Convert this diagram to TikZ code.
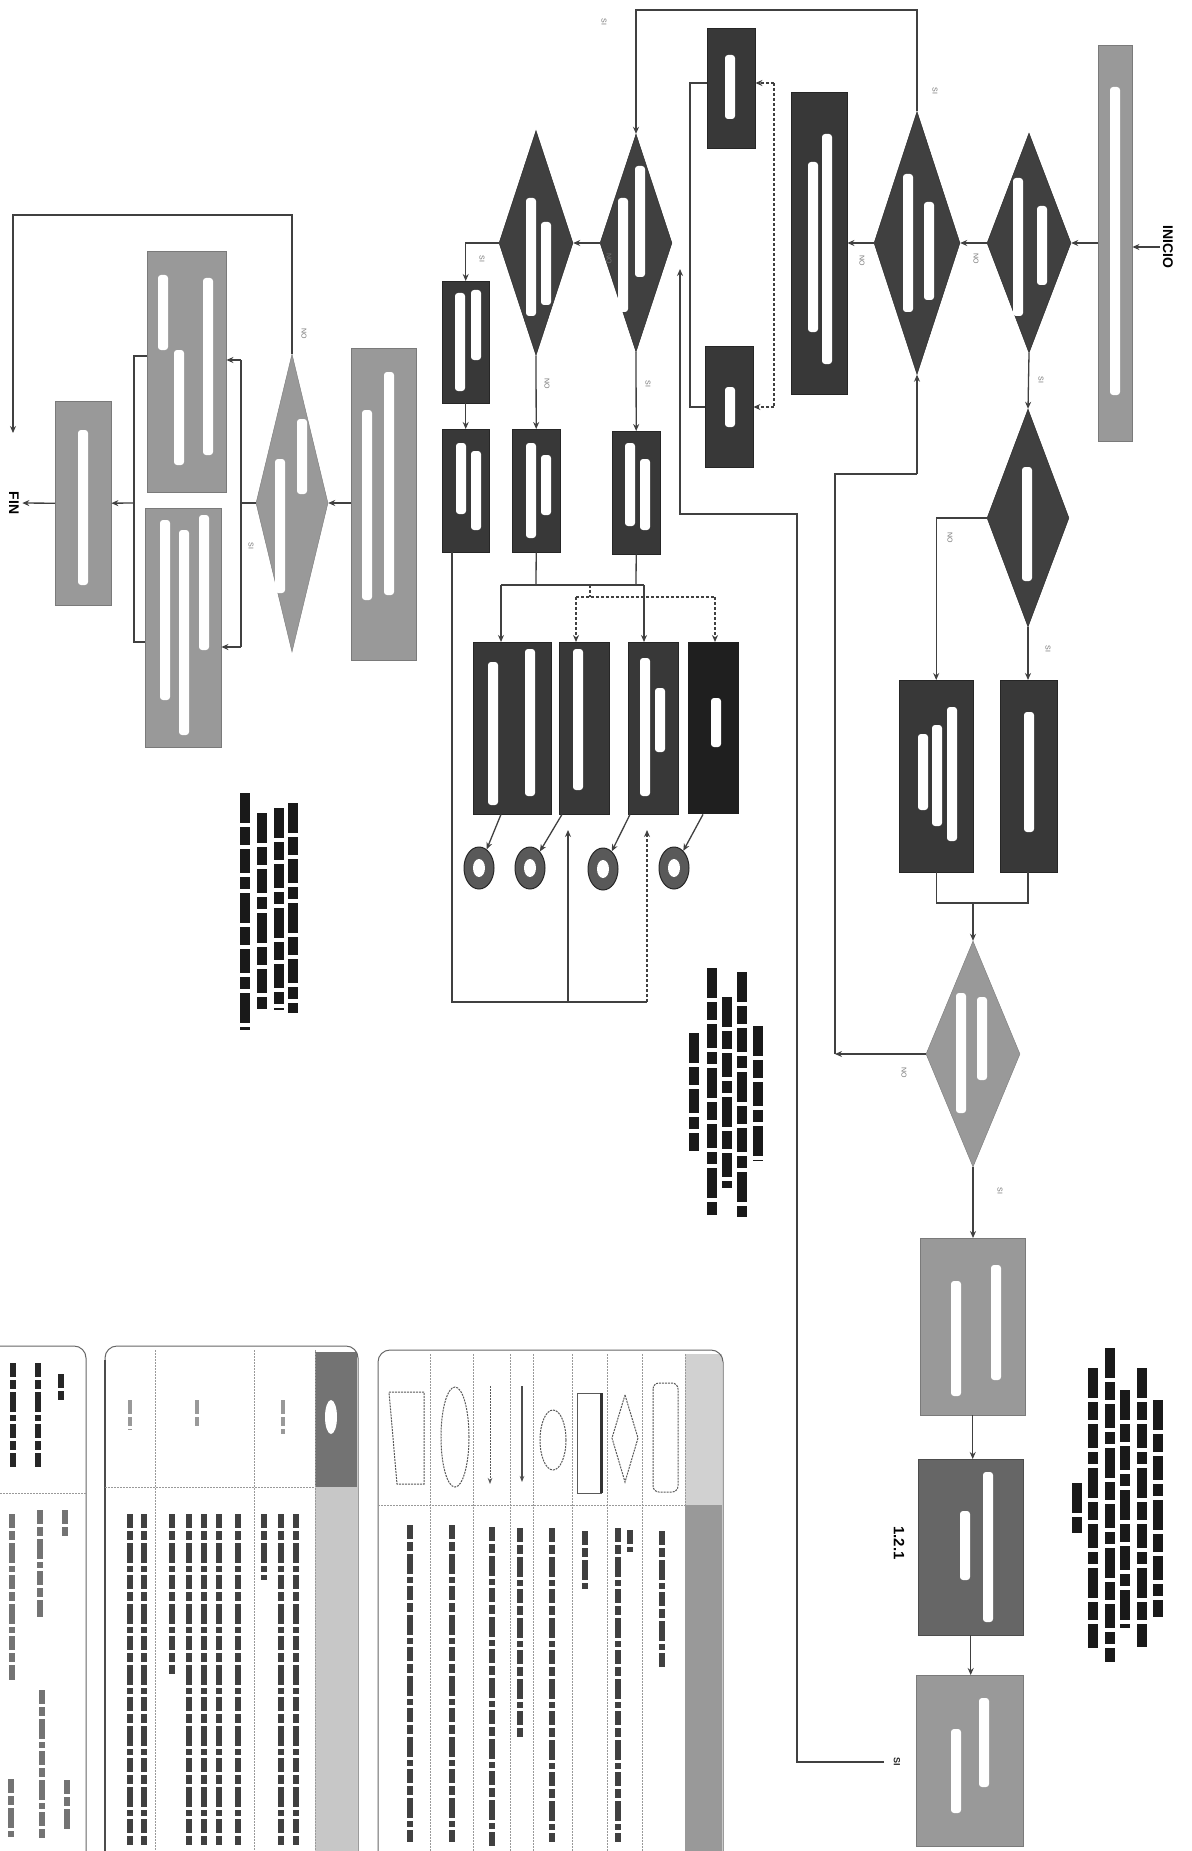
\documentclass[tikz,border=0pt]{standalone}
\usepackage{fontspec}
\setmainfont{Liberation Sans}
\usetikzlibrary{shapes.geometric,arrows.meta}
\newcommand\wbar[3]{\fill[white,rounded corners=3pt] ({#1-5},#2) rectangle ({#1+5},#3);}
\begin{document}
\begin{tikzpicture}[x=1pt,y=-1pt,
  ln/.style={draw=black!75,line width=1.3pt},
  ar/.style={ln,-{Stealth[length=7pt,width=6pt]}},
  dl/.style={ln,dash pattern=on 3pt off 2pt},
  dar/.style={dl,-{Stealth[length=7pt,width=6pt]}},
  bx/.style={rectangle,inner sep=0pt,anchor=north west},
  lbox/.style={bx,fill=black!40,draw=black!52},
  dbox/.style={bx,fill=black!78,draw=black!85},
  mbox/.style={bx,fill=black!60,draw=black!70},
  dia/.style={diamond,inner sep=0pt},
  ldia/.style={dia,fill=black!40,draw=black!52},
  ddia/.style={dia,fill=black!75,draw=black!85},
  circ/.style={ellipse,inner sep=0pt,minimum width=30pt,minimum height=42pt,fill=black!65,draw=black!85,line width=1pt},
  lbl/.style={font=\fontsize{7}{7}\selectfont,rotate=-90,text=black!55},
  blbl/.style={font=\bfseries\fontsize{9}{9}\selectfont,rotate=-90,text=black!85},
  term/.style={font=\bfseries\fontsize{14}{14}\selectfont,rotate=-90},
  note/.style={line width=10pt,black!90,dash pattern=on 30pt off 4pt on 18pt off 4pt on 24pt off 4pt on 12pt off 4pt},
  txt/.style={line width=6pt,dash pattern=on 14pt off 3pt on 9pt off 3pt on 20pt off 3pt on 6pt off 3pt},
  leg/.style={draw=black!60,line width=1pt,rounded corners=12pt},
  div/.style={draw=black!40,line width=0.8pt,dash pattern=on 1.5pt off 1.5pt},
  sym/.style={draw=black!65,line width=1pt,dash pattern=on 2pt off 1pt},
]
\fill[white] (0,0) rectangle (1191,1851);
\useasboundingbox (0,0) rectangle (1191,1851);

% ---------- terminals ----------
\node[term] (FIN) at (14,503) {FIN};
\node[term] (INICIO) at (1168,247) {INICIO};

% ---------- boxes ----------
\node[lbox,minimum width=56pt,minimum height=204pt] (F) at (55,401) {};
\node[lbox,minimum width=79pt,minimum height=241pt] (U) at (147,251) {};
\node[lbox,minimum width=76pt,minimum height=239pt] (L) at (145,508) {};
\node[lbox,minimum width=65pt,minimum height=312pt] (P) at (351,348) {};
\node[dbox,minimum width=47pt,minimum height=122pt] (A) at (442,281) {};
\node[dbox,minimum width=47pt,minimum height=123pt] (B) at (442,429) {};
\node[dbox,minimum width=48pt,minimum height=123pt] (C) at (512,429) {};
\node[dbox,minimum width=48pt,minimum height=123pt] (E) at (612,431) {};
\node[dbox,minimum width=48pt,minimum height=120pt] (G1) at (707,28) {};
\node[dbox,minimum width=48pt,minimum height=121pt] (G2) at (705,346) {};
\node[dbox,minimum width=56pt,minimum height=302pt] (H) at (791,92) {};
\node[lbox,minimum width=34pt,minimum height=396pt] (I1) at (1098,45) {};
\node[dbox,minimum width=78pt,minimum height=172pt] (D1) at (473,642) {};
\node[dbox,minimum width=50pt,minimum height=172pt] (D2) at (559,642) {};
\node[dbox,minimum width=50pt,minimum height=172pt] (D3) at (628,642) {};
\node[bx,fill=black!88,minimum width=51pt,minimum height=172pt] (D4) at (688,642) {};
\node[dbox,minimum width=74pt,minimum height=192pt] (J1) at (899,680) {};
\node[dbox,minimum width=57pt,minimum height=192pt] (J2) at (1000,680) {};
\node[lbox,minimum width=105pt,minimum height=177pt] (K1) at (920,1238) {};
\node[mbox,minimum width=105pt,minimum height=176pt] (K2) at (918,1459) {};
\node[lbox,minimum width=107pt,minimum height=171pt] (K3) at (916,1675) {};

% ---------- diamonds ----------
\node[ldia,minimum width=72pt,minimum height=298pt] (d1) at (292,503) {};
\node[ddia,minimum width=74pt,minimum height=225pt] (d2) at (536,243) {};
\node[ddia,minimum width=72pt,minimum height=218pt] (d3) at (636,243) {};
\node[ddia,minimum width=86pt,minimum height=263pt] (d4) at (917,243) {};
\node[ddia,minimum width=84pt,minimum height=220pt] (d6) at (1029,243) {};
\node[ddia,minimum width=82pt,minimum height=218pt] (d7) at (1028,518) {};
\node[ldia,minimum width=94pt,minimum height=226pt] (d5) at (973,1054) {};

% ---------- connector circles ----------
\node[circ] (c1) at (479,868) {};
\node[circ] (c2) at (530,868) {};
\node[circ] (c3) at (603,869) {};
\node[circ] (c4) at (674,868) {};
\foreach \c in {c1,c2,c3,c4}{\fill[white] (\c) ellipse (6pt and 9pt);}

% ---------- white text inside shapes ----------
\wbar{83}{430}{585}
\wbar{163}{275}{350}\wbar{179}{350}{465}\wbar{208}{278}{455}
\wbar{165}{520}{700}\wbar{184}{530}{735}\wbar{204}{515}{650}
\wbar{367}{410}{600}\wbar{389}{372}{595}
\wbar{460}{293}{391}\wbar{476}{290}{360}
\wbar{461}{443}{514}\wbar{476}{451}{530}
\wbar{531}{443}{538}\wbar{546}{455}{515}
\wbar{630}{443}{526}\wbar{645}{459}{530}
\wbar{730}{55}{119}\wbar{730}{387}{427}
\wbar{813}{162}{332}\wbar{827}{134}{364}
\wbar{1115}{87}{395}
\wbar{280}{459}{593}\wbar{302}{419}{494}
\wbar{531}{198}{316}\wbar{546}{222}{305}
\wbar{623}{198}{312}\wbar{640}{166}{277}
\wbar{908}{174}{312}\wbar{929}{202}{300}
\wbar{1018}{178}{316}\wbar{1042}{206}{285}
\wbar{1027}{467}{581}
\wbar{961}{993}{1113}\wbar{982}{997}{1080}
\wbar{493}{662}{805}\wbar{530}{649}{796}
\wbar{578}{649}{790}
\wbar{645}{658}{796}\wbar{660}{688}{752}
\wbar{716}{698}{747}
\wbar{923}{734}{810}\wbar{937}{725}{826}\wbar{952}{707}{841}
\wbar{1029}{712}{832}
\wbar{956}{1281}{1396}\wbar{996}{1265}{1380}
\wbar{965}{1511}{1580}\wbar{988}{1472}{1622}
\wbar{956}{1729}{1813}\wbar{984}{1698}{1787}

% ---------- connectors: right part ----------
\draw[ar] (INICIO) -- (INICIO -| I1.east);
\draw[ar] (d6 -| I1.west) -- (d6.east);
\draw[ar] (d6.west) -- (d4.east);
\draw[ar] (d4.west) -- (d4 -| H.east);
\draw[ar] (d4.north) -- (917,10) -- (636,10) -- (d3.north);
\draw[ar] (d3.west) -- (d2.east);
\draw[ar] (d2.west) -| (A.north);
\draw[ar] (A.south) -- (B.north);
\draw[ar] (d2.south) -- (C.north);
\draw[ar] (d3.south) -- (E.north);
\draw[ar] (d6.south) -- (d7.north);
\draw[ar] (d7.west) -| (J1.north);
\draw[ar] (d7.south) -- (d7.south |- J2.north);
\draw[ln] (J1.south) -- (J1.south |- 0,903) -- (1028,903) -- (J2.south -| 1028,0);
\draw[ar] (973,903) -- (d5.north);
\draw[ar] (d5.south) -- (d5.south |- K1.north);
\draw[ar] (K1.south) -- (K1.south |- K2.north);
\draw[ar] (K2.south) -- (K2.south |- K3.north);
\draw[ar] (d5.west) -- (835,1054);
\draw[ln] (835,1054) -- (835,474) -- (917,474);
\draw[ar] (917,474) -- (d4.south);

% G boxes
\draw[dl] (774,83) -- (774,407);
\draw[dar] (774,83) -- (G1.east |- 0,83);
\draw[dar] (774,407) -- (G2.east |- 0,407);
\draw[ln] (G1.west |- 0,83) -- (690,83) -- (690,407) -- (G2.west |- 0,407);
\draw[ar] (884,1762) -- (797,1762) -- (797,514) -- (680,514) -- (680,269);
\node[blbl] (siK) at (897,1762) {SI};

% bus to D boxes
\draw[ln] (C.south) -- (536,585);
\draw[ln] (E.south) -- (636,585);
\draw[ln] (501,585) -- (644,585);
\draw[ar] (501,585) -- (501,585 |- D1.north);
\draw[ar] (644,585) -- (644,585 |- D3.north);
\draw[dl] (590,585) -- (590,597);
\draw[dl] (576,597) -- (715,597);
\draw[dar] (576,597) -- (576,597 |- D2.north);
\draw[dar] (715,597) -- (715,597 |- D4.north);
\draw[ar] ([xshift=28pt]D1.south west) -- (c1);
\draw[ar] ([xshift=3pt]D2.south west) -- (c2);
\draw[ar] ([xshift=2pt]D3.south west) -- (c3);
\draw[ar] ([xshift=15pt]D4.south west) -- (c4);
\draw[ln] ([xshift=10pt]B.south west) -- ([xshift=10pt]B.south west |- 0,1002) -- (647,1002);
\draw[ar] (568,1002) -- (568,830);
\draw[dar] (647,1002) -- (647,830);

% ---------- connectors: left part ----------
\draw[ar] (d1 -| P.west) -- (d1.east);
\draw[ln] (d1.west) -- (241,503);
\draw[ln] (241,360) -- (241,647);
\draw[ar] (241,360) -- (241,360 -| U.east);
\draw[ar] (241,647) -- (241,647 -| L.east);
\draw[ln] (U.west |- 0,356) -- (134,356) -- (134,642) -- (L.west |- 0,642);
\draw[ar] (134,503) -- (F.east);
\draw[ar] (F.west) -- (FIN);
\draw[ar] (d1.north) -- (292,215) -- (13,215) -- (13,433);

% ---------- small labels ----------
\node[lbl] at (304,334) {NO};
\node[lbl] at (251,546) {SI};
\node[lbl] at (482,259) {SI};
\node[lbl] at (547,384) {NO};
\node[lbl] at (609,259) {NO};
\node[lbl] at (648,384) {SI};
\node[lbl] at (604,22) {SI};
\node[lbl] at (935,91) {SI};
\node[lbl] at (862,261) {NO};
\node[lbl] at (976,259) {NO};
\node[lbl] at (1041,380) {SI};
\node[lbl] at (950,538) {NO};
\node[lbl] at (1048,649) {SI};
\node[lbl] at (904,1073) {NO};
\node[lbl] at (1000,1191) {SI};
\node[term,font=\bfseries\fontsize{15}{15}\selectfont] at (899,1543) {1.2.1};

% ---------- notes (illegible bold text) ----------
\foreach \x/\a/\b in {293/803/1013,279/808/1010,262/813/1010,245/793/1030}{\draw[note] (\x,\a) -- (\x,\b);}
\foreach \x/\a/\b in {758/1026/1161,742/972/1217,727/997/1188,712/968/1215,694/1033/1151}{\draw[note] (\x,\a) -- (\x,\b);}
\foreach \x/\a/\b in {1158/1400/1617,1142/1368/1647,1125/1390/1628,1110/1348/1662,1093/1368/1650,1077/1483/1533}{\draw[note] (\x,\a) -- (\x,\b);}

% ---------- legend panel A ----------
\draw[leg] (0,1346) -- (86,1346) -- (86,1851);
\draw[div] (0,1493) -- (86,1493);
\foreach \x/\a/\b in {13/1363/1467,38/1363/1467,61/1374/1402}{\draw[txt,black!85] (\x,\a) -- (\x,\b);}
\foreach \x/\a/\b in {12/1514/1680,40/1510/1617,65/1510/1537,11/1779/1840,42/1690/1840,67/1780/1830}{\draw[txt,black!55] (\x,\a) -- (\x,\b);}

% ---------- legend panel B ----------
\fill[black!22] (315,1352) rectangle (357,1851);
\fill[black!55] (315,1352) rectangle (357,1487);
\fill[white] (331,1417) ellipse (6pt and 17pt);
\draw[leg] (105,1851) -- (105,1346) -- (358,1346) -- (358,1851);
\draw[black!70,line width=2.5pt] (105,1360) -- (105,1851);
\draw[div] (105,1487) -- (315,1487);
\foreach \x in {155,254,315}{\draw[div] (\x,1350) -- (\x,1851);}
\foreach \x/\a/\b in {130/1400/1430,197/1400/1427,283/1400/1434}{\draw[txt,black!40,line width=4pt] (\x,\a) -- (\x,\b);}
\foreach \x/\a/\b in {130/1514/1848,144/1514/1848,172/1514/1674,189/1514/1848,204/1514/1848,219/1514/1848,238/1514/1848,264/1514/1580,281/1514/1848,296/1514/1848}{\draw[txt,black!75] (\x,\a) -- (\x,\b);}

% ---------- legend panel C ----------
\fill[black!18] (685,1354) rectangle (722,1505);
\fill[black!40] (685,1505) rectangle (722,1851);
\draw[leg] (378,1851) -- (378,1350) -- (723,1350) -- (723,1851);
\draw[div] (378,1505) -- (685,1505);
\foreach \x in {430,473,510,533,572,607,642,685}{\draw[div] (\x,1354) -- (\x,1851);}
\draw[sym] (389,1392) -- (424,1392) -- (424,1484) -- (397,1484) -- cycle;
\draw[sym] (455,1437) ellipse (14pt and 50pt);
\draw[sym,-{Stealth[length=6pt]}] (490,1386) -- (490,1484);
\draw[draw=black!70,line width=1.2pt,-{Stealth[length=6pt]}] (522,1386) -- (522,1482);
\draw[sym] (553,1440) ellipse (13pt and 30pt);
\draw[draw=black!65,line width=1pt] (577,1393) rectangle (601,1493);
\draw[black!80,line width=3pt] (601,1393) -- (601,1493);
\draw[sym] (625,1395) -- (638,1438) -- (625,1482) -- (612,1438) -- cycle;
\draw[sym,rounded corners=6pt] (653,1383) rectangle (678,1492);
\foreach \x/\a/\b in {410/1525/1842,452/1525/1842,492/1527/1848,520/1528/1738,552/1528/1842,585/1531/1591,618/1528/1842,630/1530/1552,662/1531/1668}{\draw[txt,black!75] (\x,\a) -- (\x,\b);}
\end{tikzpicture}
\end{document}
